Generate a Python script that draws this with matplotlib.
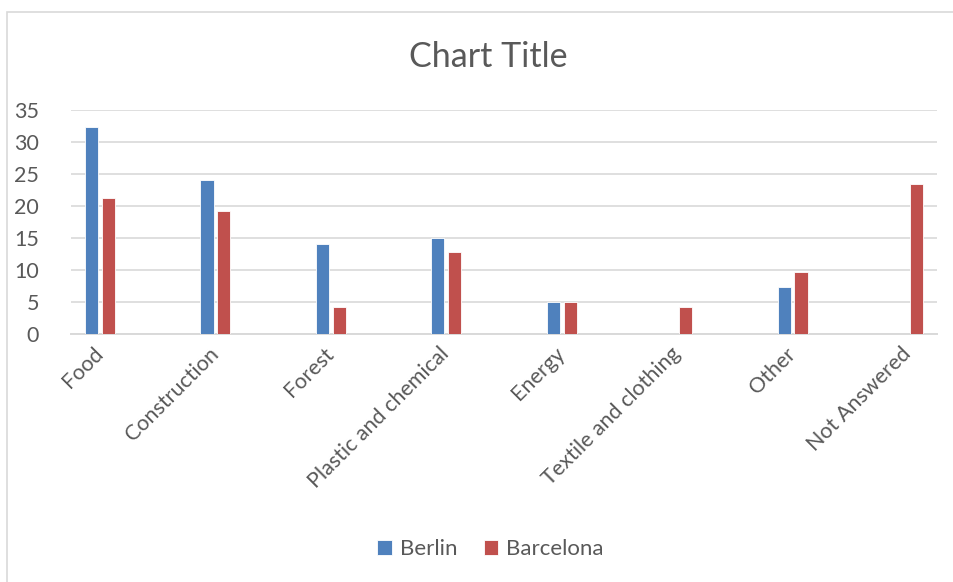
import numpy as np
import matplotlib.pyplot as plt
from matplotlib.patches import Rectangle

# Data
categories = ['Food', 'Construction', 'Forest', 'Plastic and chemical',
              'Energy', 'Textile and clothing', 'Other', 'Not Answered']
berlin = [32.4, 24.0, 14.0, 15.0, 5.0, 0.0, 7.4, 0.0]
barcelona = [21.2, 19.2, 4.2, 12.8, 5.0, 4.2, 9.7, 23.4]
yticks = [0, 5, 10, 15, 20, 25, 30, 35]

plt.rcParams['font.family'] = ['Lato', 'DejaVu Sans']
text_col = '#595959'
grid_col = '#D9D9D9'

fig = plt.figure(figsize=(9.54, 5.82), dpi=100)
ax = fig.add_axes([71 / 954, 1 - 334 / 582, (937 - 71) / 954, (334 - 110) / 582])

x = np.arange(len(categories))
w = 0.113
off = 0.072
ax.bar(x - off, berlin, w, color='#4F81BD', edgecolor='white', linewidth=0.6,
       label='Berlin', zorder=3)
ax.bar(x + off, barcelona, w, color='#C0504D', edgecolor='white', linewidth=0.6,
       label='Barcelona', zorder=3)

ax.set_xlim(-0.25, 7.25)
ax.set_ylim(0, 35)
ax.set_yticks(yticks)
ax.yaxis.grid(True, color=grid_col, linewidth=1.2, zorder=0)
ax.set_axisbelow(True)
for s in ['top', 'right', 'left']:
    ax.spines[s].set_visible(False)
ax.spines['bottom'].set_color(grid_col)
ax.spines['bottom'].set_linewidth(1.4)

ax.tick_params(axis='both', length=0, colors=text_col, labelsize=15.5)
ax.tick_params(axis='y', pad=23)
ax.set_xticks(x)
ax.set_xticklabels(categories, rotation=45, ha='right', rotation_mode='anchor',
                   va='center', color=text_col)
ax.tick_params(axis='x', pad=12)

fig.text(0.512, 1 - 57 / 582, 'Chart Title', ha='center', va='center',
         fontsize=24.5, color=text_col)

leg = fig.legend(loc='center', bbox_to_anchor=(0.514, 1 - 549 / 582), ncol=2,
                 frameon=False, fontsize=16, handlelength=0.65, handleheight=0.65,
                 handletextpad=0.35, columnspacing=1.2, labelcolor=text_col)

# chart border (right/bottom cut off in the original screenshot)
fig.patches.append(Rectangle((7 / 954, -0.1), 1.2, 1 - 12 / 582 + 0.1,
                             transform=fig.transFigure, fill=False,
                             edgecolor='#D9D9D9', linewidth=1.2))

fig.savefig('out.png', dpi=100)
